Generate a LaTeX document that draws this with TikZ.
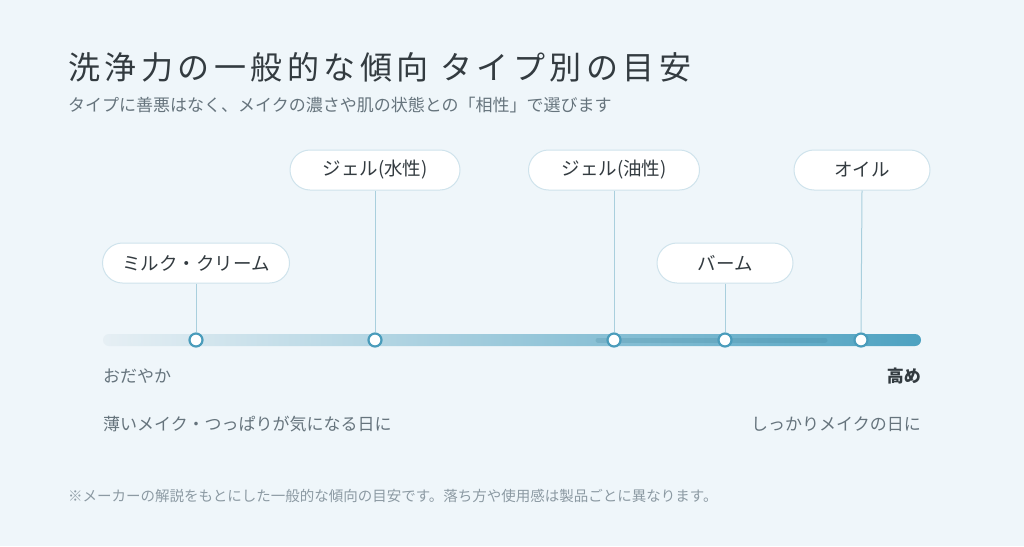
\documentclass[tikz,border=0pt]{standalone}
\usepackage{fontspec}
\newfontfamily\jp{Noto Sans CJK JP}
\newfontfamily\jptitle[LetterSpace=14]{Noto Sans CJK JP}
\usetikzlibrary{positioning}
\definecolor{bgblue}{HTML}{EFF6FA}
\definecolor{inkdark}{HTML}{333B40}
\definecolor{inkgray}{HTML}{66747D}
\definecolor{inklight}{HTML}{8C9AA3}
\definecolor{barlight}{HTML}{E6EFF4}
\definecolor{bardark}{HTML}{4EA2C1}
\definecolor{ringblue}{HTML}{4A9CBB}
\definecolor{stemblue}{HTML}{A9CFDD}
\definecolor{pilledge}{HTML}{CFE3EC}

\begin{document}
\begin{tikzpicture}[x=1pt,y=-1pt,
  pill/.style={draw=pilledge,line width=1pt,fill=white,rounded corners=20pt,
    minimum height=40pt,inner xsep=0pt,font=\jp\fontsize{18.5}{18.5}\selectfont,text=inkdark},
  ring/.style={circle,draw=ringblue,line width=2.2pt,fill=white,minimum size=13pt,inner sep=0pt},
  stem/.style={stemblue,line width=1pt},
  note/.style={font=\jp\fontsize{17}{17}\selectfont,text=inkgray,inner sep=0pt}]
\fill[bgblue] (0,0) rectangle (1024,546);
\useasboundingbox (0,0) rectangle (1024,546);

% heading
\node[anchor=west,inner sep=0pt,text=inkdark,font=\jptitle\fontsize{32}{32}\selectfont] (title) at (68,67)
  {洗浄力の一般的な傾向 タイプ別の目安};
\node[note,anchor=west] (sub) at (68,105)
  {タイプに善悪はなく、メイクの濃さや肌の状態との「相性」で選びます};

% scale bar
\shade[left color=barlight,right color=bardark,rounded corners=6pt] (103,334) rectangle (921,346);
\draw[bardark!80!black,opacity=0.22,line width=5pt,line cap=round] (598,340)--(825,340);

\foreach \nm/\px in {milk/196,gelw/375,gelo/614,balm/725,oil/861}
  \node[ring] (\nm) at (\px,340) {};

% type labels
\node[pill,minimum width=187pt] (milkbox) at (196,263) {ミルク・クリーム};
\node[pill,minimum width=170pt] (gelwbox) at (375,170) {ジェル(水性)};
\node[pill,minimum width=171pt] (gelobox) at (614,170) {ジェル(油性)};
\node[pill,minimum width=136pt] (balmbox) at (725,263) {バーム};
\node[pill,minimum width=136pt] (oilbox) at (862,170) {オイル};

\foreach \nm in {milk,gelw,gelo,balm,oil}
  \draw[stem] (\nm box.south)--(\nm.north);

% ends of the scale
\node[note,anchor=west] (low) at (103,376) {おだやか};
\node[note,anchor=east,text=inkdark,font=\jp\bfseries\fontsize{17}{17}\selectfont] (high) at (921,376) {高め};
\node[note,anchor=west] (lowuse) at (103,424) {薄いメイク・つっぱりが気になる日に};
\node[note,anchor=east] (highuse) at (921,424) {しっかりメイクの日に};

\node[anchor=west,inner sep=0pt,text=inklight,font=\jp\fontsize{14.5}{14.5}\selectfont] (foot) at (68,496)
  {※メーカーの解説をもとにした一般的な傾向の目安です。落ち方や使用感は製品ごとに異なります。};
\end{tikzpicture}
\end{document}
